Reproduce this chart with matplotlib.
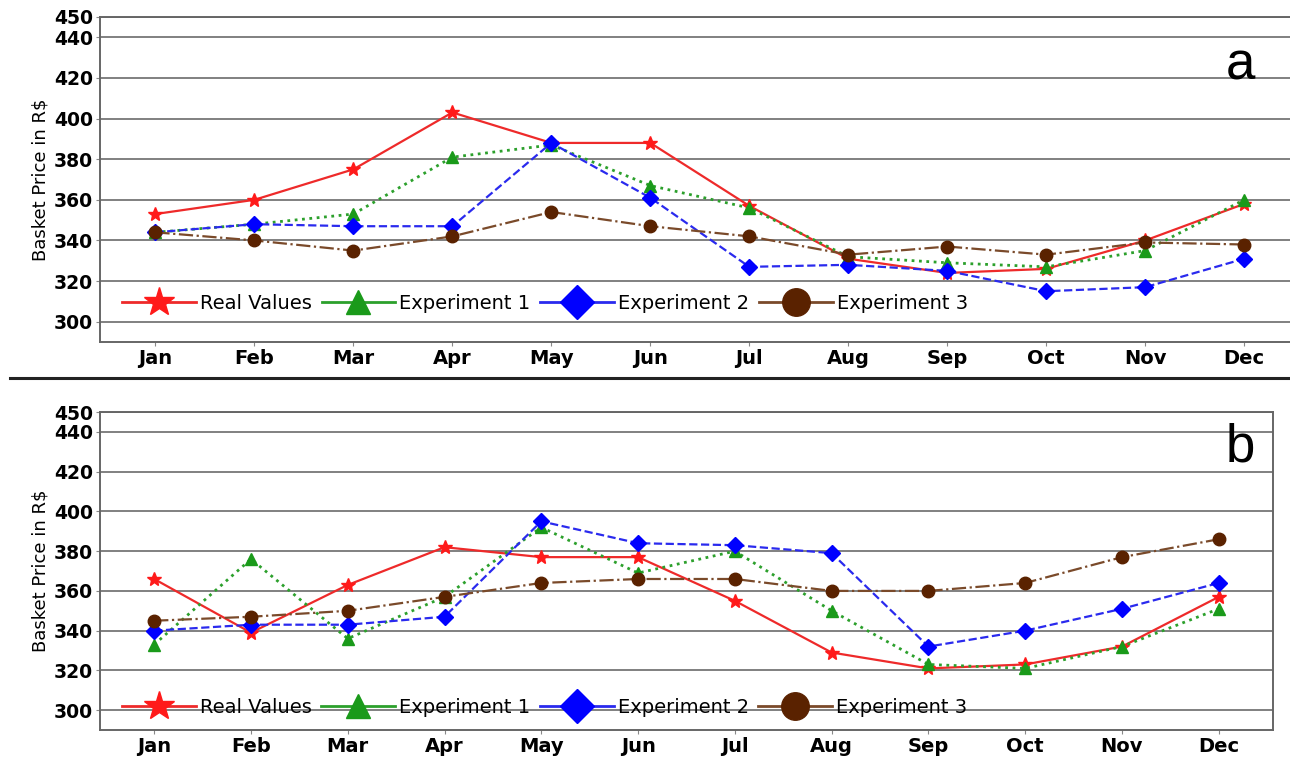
import numpy as np
import matplotlib
matplotlib.use("Agg")
import matplotlib.pyplot as plt
from matplotlib.lines import Line2D

months = ['Jan', 'Feb', 'Mar', 'Apr', 'May', 'Jun',
          'Jul', 'Aug', 'Sep', 'Oct', 'Nov', 'Dec']

# panel a
real_a = [353, 360, 375, 403, 388, 388, 357, 331, 324, 326, 340, 358]
exp1_a = [344, 348, 353, 381, 387, 367, 356, 332, 329, 327, 335, 360]
exp2_a = [344, 348, 347, 347, 388, 361, 327, 328, 325, 315, 317, 331]
exp3_a = [344, 340, 335, 342, 354, 347, 342, 333, 337, 333, 339, 338]

# panel b
real_b = [366, 339, 363, 382, 377, 377, 355, 329, 321, 323, 332, 357]
exp1_b = [333, 376, 336, 357, 392, 369, 380, 350, 323, 321, 332, 351]
exp2_b = [340, 343, 343, 347, 395, 384, 383, 379, 332, 340, 351, 364]
exp3_b = [345, 347, 350, 357, 364, 366, 366, 360, 360, 364, 377, 386]

y_ticks = [300, 320, 340, 360, 380, 400, 420, 440, 450]
names = ['Real Values', 'Experiment 1', 'Experiment 2', 'Experiment 3']

styles = [
    dict(color='#ee2a2a', ls='-', marker='*', ms=10, mfc='#ff1a1a', mec='#ff1a1a', lw=1.6),
    dict(color='#2ca02c', ls=':', marker='^', ms=8, mfc='#1a9a1a', mec='#1a9a1a', lw=2.0),
    dict(color='#2a2aee', ls='--', marker='D', ms=8, mfc='#0000ff', mec='#0000ff', lw=1.6),
    dict(color='#7a4a2a', ls='-.', marker='o', ms=9, mfc='#5a2200', mec='#5a2200', lw=1.6),
]

fig = plt.figure(figsize=(12.9, 7.58), dpi=100)
fig.patch.set_facecolor('white')

ax_a = fig.add_axes([0.0775, 0.5488, 0.930, 0.4288])
ax_b = fig.add_axes([0.0775, 0.0369, 0.9093, 0.4195])

x = np.arange(len(months))


def draw_panel(ax, series, letter, letter_pos, leg_y, full_frame):
    for vals, st in zip(series, styles):
        ax.plot(x, vals, zorder=3, **st)
    ax.set_xlim(-0.56, 11.56)
    ax.set_ylim(290, 450)
    ax.set_yticks(y_ticks)
    ax.set_xticks(x)
    ax.set_xticklabels(months, fontsize=14, fontweight='bold')
    ax.set_yticklabels([str(v) for v in y_ticks], fontsize=13.5, fontweight='bold')
    ax.yaxis.grid(True, color='#808080', lw=1.4)
    ax.set_axisbelow(True)
    ax.tick_params(axis='both', length=3, color='#888888', pad=2)
    ax.set_ylabel('Basket Price in R$', fontsize=13, labelpad=3)
    for side in ['left', 'bottom', 'top', 'right']:
        ax.spines[side].set_color('#666666')
        ax.spines[side].set_linewidth(1.4)
    if not full_frame:
        ax.spines['right'].set_visible(False)
    ax.text(letter_pos[0], letter_pos[1], letter, transform=ax.transAxes,
            fontsize=38, ha='center', va='center', family='Liberation Sans')

    handles = []
    for st in styles:
        h = Line2D([], [], color=st['color'], ls='-', lw=2, marker=st['marker'],
                   ms=st['ms'] * 2.2, mfc=st['mfc'], mec=st['mec'])
        handles.append(h)
    leg = ax.legend(handles, names, loc='center left', ncol=4,
                    bbox_to_anchor=(0.012, leg_y), frameon=False,
                    fontsize=14, handlelength=3.8, handletextpad=0.2,
                    columnspacing=0.5, borderaxespad=0)
    leg.set_zorder(5)


draw_panel(ax_a, [real_a, exp1_a, exp2_a, exp3_a], 'a', (0.951, 0.852), 0.12, False)
draw_panel(ax_b, [real_b, exp1_b, exp2_b, exp3_b], 'b', (0.972, 0.89), 0.07, True)

# separator between the two panels
fig.add_artist(Line2D([0.008, 1.0], [1 - 378 / 758, 1 - 378 / 758],
                      color='#222222', lw=2.2))

fig.savefig('out.png', dpi=100, facecolor='white')
